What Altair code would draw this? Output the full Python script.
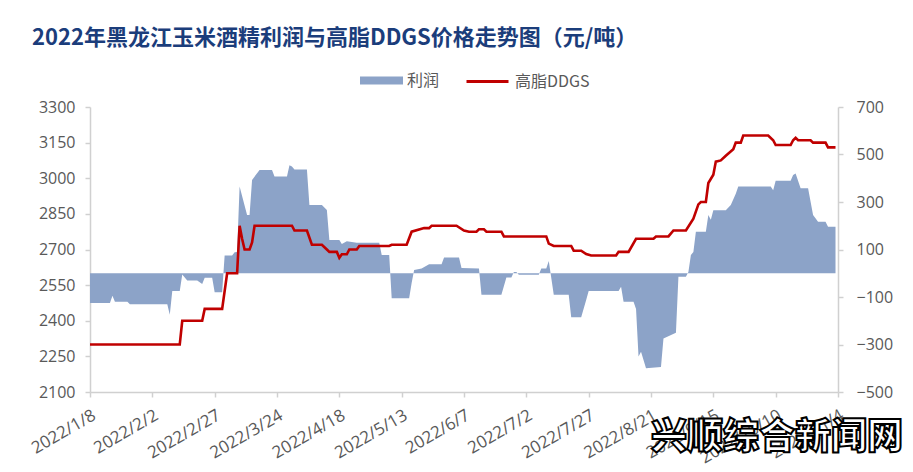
import altair as alt
import pandas as pd

# ---- data ----
profit_dates = [
    "2022/1/8", "2022/1/16", "2022/1/17", "2022/1/18", "2022/1/23", "2022/1/24", "2022/2/8", "2022/2/9",
    "2022/2/10", "2022/2/13", "2022/2/14", "2022/2/16", "2022/2/20", "2022/2/22", "2022/2/23", "2022/2/26",
    "2022/2/27", "2022/3/2", "2022/3/3", "2022/3/6", "2022/3/7", "2022/3/8", "2022/3/9", "2022/3/12",
    "2022/3/13", "2022/3/14", "2022/3/17", "2022/3/22", "2022/3/23", "2022/3/28", "2022/3/29", "2022/3/30",
    "2022/3/31", "2022/4/5", "2022/4/6", "2022/4/11", "2022/4/13", "2022/4/14", "2022/4/18", "2022/4/19",
    "2022/4/21", "2022/4/25", "2022/5/4", "2022/5/5", "2022/5/8", "2022/5/9", "2022/5/16", "2022/5/17",
    "2022/5/18", "2022/5/21", "2022/5/24", "2022/5/29", "2022/5/30", "2022/6/5", "2022/6/6", "2022/6/13",
    "2022/6/14", "2022/6/22", "2022/6/24", "2022/6/26", "2022/6/27", "2022/6/28", "2022/6/29", "2022/7/7",
    "2022/7/8", "2022/7/10", "2022/7/11", "2022/7/13", "2022/7/19", "2022/7/20", "2022/7/24", "2022/7/26",
    "2022/7/27", "2022/8/8", "2022/8/9", "2022/8/10", "2022/8/14", "2022/8/15", "2022/8/16", "2022/8/17",
    "2022/8/19", "2022/8/25", "2022/8/26", "2022/8/31", "2022/9/1", "2022/9/4", "2022/9/5", "2022/9/6",
    "2022/9/7", "2022/9/8", "2022/9/12", "2022/9/13", "2022/9/14", "2022/9/15", "2022/9/20", "2022/9/22",
    "2022/9/24", "2022/9/25", "2022/10/8", "2022/10/9", "2022/10/10", "2022/10/16", "2022/10/17", "2022/10/18",
    "2022/10/20", "2022/10/23", "2022/10/25", "2022/10/27", "2022/10/30", "2022/10/31", "2022/11/3",
]
profit_values = [
    -125, -125, -95, -120, -120, -130, -130, -175,
    -75, -75, -5, -31, -31, -45, -19, -19,
    -80, -80, 75, 75, 88, 90, 365, 245,
    245, 393, 435, 435, 407, 407, 455, 450,
    437, 437, 287, 287, 266, 140, 140, 123,
    135, 128, 128, 77, 77, -105, -105, -41,
    14, 20, 38, 38, 66, 66, 22, 20,
    -90, -90, -18, -18, 5, 5, -6, -6,
    20, 20, 52, -90, -90, -185, -185, -113,
    -75, -75, -57, -120, -120, -150, -350, -330,
    -400, -395, -275, -250, -15, -15, 5, 77,
    90, 175, 175, 245, 225, 265, 265, 287,
    335, 365, 365, 350, 390, 390, 414, 420,
    358, 358, 245, 217, 217, 196, 196,
]

ddgs_dates = [
    "2022/1/8", "2022/2/13", "2022/2/14", "2022/2/22", "2022/2/23", "2022/3/2", "2022/3/4", "2022/3/8",
    "2022/3/9", "2022/3/10", "2022/3/11", "2022/3/13", "2022/3/14", "2022/3/15", "2022/3/30", "2022/3/31",
    "2022/4/5", "2022/4/7", "2022/4/11", "2022/4/13", "2022/4/14", "2022/4/17", "2022/4/18", "2022/4/19",
    "2022/4/21", "2022/4/22", "2022/4/25", "2022/4/26", "2022/5/8", "2022/5/9", "2022/5/15", "2022/5/17",
    "2022/5/22", "2022/5/24", "2022/5/25", "2022/6/4", "2022/6/7", "2022/6/9", "2022/6/12", "2022/6/13",
    "2022/6/15", "2022/6/16", "2022/6/22", "2022/6/23", "2022/7/10", "2022/7/11", "2022/7/13", "2022/7/20",
    "2022/7/21", "2022/7/24", "2022/7/26", "2022/7/28", "2022/8/7", "2022/8/8", "2022/8/12", "2022/8/15",
    "2022/8/22", "2022/8/23", "2022/8/28", "2022/8/30", "2022/9/4", "2022/9/7", "2022/9/9", "2022/9/10",
    "2022/9/12", "2022/9/13", "2022/9/15", "2022/9/16", "2022/9/18", "2022/9/20", "2022/9/23", "2022/9/24",
    "2022/9/26", "2022/9/27", "2022/10/7", "2022/10/9", "2022/10/10", "2022/10/16", "2022/10/17", "2022/10/18",
    "2022/10/19", "2022/10/24", "2022/10/25", "2022/10/30", "2022/10/31", "2022/11/3",
]
ddgs_values = [
    2300, 2300, 2400, 2400, 2450, 2450, 2600, 2600,
    2800, 2745, 2700, 2700, 2730, 2800, 2800, 2780,
    2780, 2720, 2720, 2700, 2690, 2690, 2665, 2680,
    2680, 2700, 2700, 2715, 2715, 2720, 2720, 2775,
    2790, 2790, 2800, 2800, 2780, 2775, 2775, 2785,
    2785, 2775, 2775, 2755, 2755, 2725, 2715, 2715,
    2695, 2695, 2681, 2675, 2675, 2690, 2690, 2745,
    2745, 2755, 2755, 2780, 2780, 2830, 2890, 2900,
    2900, 2980, 3015, 3070, 3075, 3095, 3122, 3150,
    3150, 3180, 3180, 3160, 3140, 3140, 3160, 3170,
    3160, 3160, 3150, 3150, 3130, 3130,
]

x_ticks = [(1, 8), (2, 2), (2, 27), (3, 24), (4, 18), (5, 13), (6, 7),
           (7, 2), (7, 27), (8, 21), (9, 15), (10, 10), (11, 4)]
left_ticks = [2100, 2250, 2400, 2550, 2700, 2850, 3000, 3150, 3300]
right_ticks = [-500, -300, -100, 100, 300, 500, 700]

profit_name = "利润"
ddgs_name = "高脂DDGS"
title_text = "2022年黑龙江玉米酒精利润与高脂DDGS价格走势图（元/吨）"
watermark = ["兴顺综合新闻网"]

# ---- tables ----
profit_df = pd.DataFrame({"date": profit_dates, "value": profit_values, "series": profit_name})
ddgs_df = pd.DataFrame({"date": ddgs_dates, "value": ddgs_values, "series": ddgs_name})

AREA = "#8CA3C8"
RED = "#C00000"
GRAY = "#595959"
AXIS = "#D0D0D0"
TICK_FONT = "Open Sans"
CJK = "Noto Sans CJK SC"

x_enc = alt.X(
    "date:T",
    scale=alt.Scale(domain=[alt.DateTime(year=2022, month=1, date=8),
                            alt.DateTime(year=2022, month=11, date=4)]),
    axis=alt.Axis(
        values=[alt.DateTime(year=2022, month=m, date=d) for m, d in x_ticks],
        format="%Y/%-m/%-d", labelAngle=-30, labelAlign="right", labelBaseline="top",
        labelPadding=10, title=None, grid=False, domainColor=AXIS, domainWidth=1.5,
        tickColor=AXIS, tickWidth=1.5, tickSize=5, labelColor=GRAY, labelFontSize=17,
        labelFont=TICK_FONT, labelOverlap=False, labelFlush=False,
    ),
)

area = alt.Chart(profit_df).mark_area(interpolate="linear", opacity=1).encode(
    x=x_enc,
    y=alt.Y("value:Q",
            scale=alt.Scale(domain=[-500, 700], nice=False, zero=False),
            axis=alt.Axis(orient="right", values=right_ticks, format="d", title=None, grid=False,
                          domainColor=AXIS, domainWidth=1.5, tickColor=AXIS, tickWidth=1.5,
                          tickSize=5, labelPadding=13, labelColor=GRAY, labelFontSize=16,
                          labelFont=TICK_FONT)),
    y2=alt.datum(0),
    color=alt.Color("series:N",
                    scale=alt.Scale(domain=[profit_name], range=[AREA]),
                    legend=alt.Legend(orient="none", legendX=270, legendY=-48, title=None,
                                      symbolType="M-1,-0.186H1V0.186H-1Z", symbolSize=1849,
                                      symbolOpacity=1, symbolStrokeWidth=0,
                                      labelFont=CJK, labelFontSize=16, labelColor=GRAY,
                                      labelOffset=4)),
)

line = alt.Chart(ddgs_df).mark_line(strokeWidth=2.6, interpolate="linear").encode(
    x=x_enc,
    y=alt.Y("value:Q",
            scale=alt.Scale(domain=[2100, 3300], nice=False, zero=False),
            axis=alt.Axis(orient="left", values=left_ticks, format="d", title=None, grid=False,
                          domainColor=AXIS, domainWidth=1.5, tickColor=AXIS, tickWidth=1.5,
                          tickSize=5, labelPadding=10, labelColor=GRAY, labelFontSize=16,
                          labelFont=TICK_FONT)),
    stroke=alt.Stroke("series:N",
                      scale=alt.Scale(domain=[ddgs_name], range=[RED]),
                      legend=alt.Legend(orient="none", legendX=375, legendY=-48, title=None,
                                        symbolType="stroke", symbolSize=1764,
                                        symbolStrokeWidth=3,
                                        labelFont=CJK, labelFontSize=16, labelColor=GRAY,
                                        labelOffset=5)),
)

mark_wm = alt.Chart(pd.DataFrame({"t": watermark})).mark_text(
    font=CJK, fontSize=36, fontWeight=900, fill="white", stroke="black", strokeWidth=2,
    align="center", baseline="middle",
).encode(text="t:N", x=alt.value(687), y=alt.value(331))

chart = alt.layer(area, line, mark_wm).resolve_scale(y="independent").properties(
    width=748, height=285,
    padding={"left": 90, "top": 107, "right": 75, "bottom": 80},
    autosize=alt.AutoSizeParams(type="none"),
    background="white",
    title=alt.TitleParams(text=title_text, anchor="start", frame="group", dx=-58,
                          font=CJK, fontSize=22, fontWeight="bold", color="#1B3D7B",
                          offset=9),
).configure_view(stroke=None)

chart.save("out.html", embed_options={"renderer": "svg", "actions": False})
